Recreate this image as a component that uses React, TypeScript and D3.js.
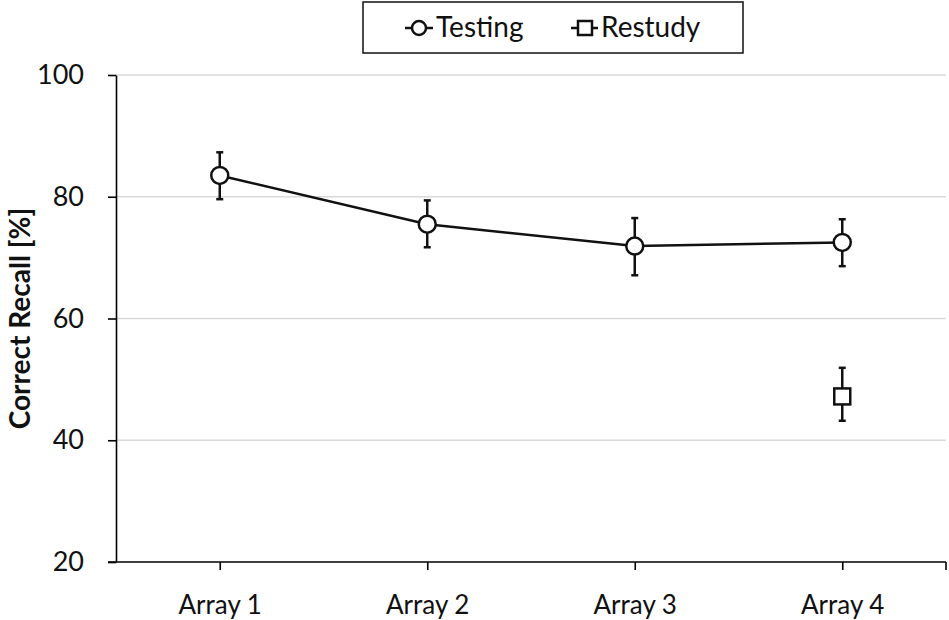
import { useEffect, useRef } from "react";
import * as d3 from "d3";

const categories = ["Array 1", "Array 2", "Array 3", "Array 4"];
const testingMean = [83.5, 75.5, 71.9, 72.5];
const testingLow = [79.6, 71.7, 67.1, 68.6];
const testingHigh = [87.3, 79.4, 76.5, 76.3];
const restudyCategory = ["Array 4"];
const restudyMean = [47.2];
const restudyLow = [43.2];
const restudyHigh = [51.9];
const yTicks = [20, 40, 60, 80, 100];

const FONT = "Lato, 'Open Sans', sans-serif";

export default function App() {
  const svgRef = useRef<SVGSVGElement>(null);

  useEffect(() => {
    if (!svgRef.current) return;
    const svg = d3.select(svgRef.current);
    svg.selectAll("*").remove();

    const left = 116, right = 946, top = 75, bottom = 562;

    const x = d3.scalePoint<string>().domain(categories).range([left, right]).padding(0.5);
    const y = d3.scaleLinear().domain([20, 100]).range([bottom, top]);

    // gridlines
    svg.append("g")
      .selectAll("line")
      .data(yTicks.filter(t => t > 20))
      .enter()
      .append("line")
      .attr("x1", left).attr("x2", right)
      .attr("y1", d => y(d)).attr("y2", d => y(d))
      .attr("stroke", "#d9d9d9")
      .attr("stroke-width", 1.5);

    // Y axis
    const yAxis = svg.append("g")
      .attr("transform", `translate(${left},0)`)
      .call(d3.axisLeft(y).tickValues(yTicks).tickSize(8).tickPadding(24).tickSizeOuter(0));
    yAxis.select(".domain").attr("stroke", "#000").attr("stroke-width", 1.6);
    yAxis.selectAll(".tick line").attr("stroke", "#000").attr("stroke-width", 1.6);
    yAxis.selectAll(".tick text")
      .attr("font-family", FONT).attr("font-size", 27).attr("fill", "#111");

    // X axis
    const xAxis = svg.append("g")
      .attr("transform", `translate(0,${bottom})`)
      .call(d3.axisBottom(x).tickSize(8).tickPadding(26).tickSizeOuter(0));
    xAxis.select(".domain").attr("d", `M${left - 8},0H${right}`).attr("stroke", "#000").attr("stroke-width", 1.6);
    xAxis.selectAll(".tick line").attr("stroke", "#000").attr("stroke-width", 1.6);
    xAxis.selectAll(".tick text")
      .attr("font-family", FONT).attr("font-size", 26).attr("fill", "#111");
    xAxis.append("line")
      .attr("x1", right).attr("x2", right)
      .attr("y1", 0).attr("y2", 8)
      .attr("stroke", "#000").attr("stroke-width", 1.6);

    // Y label
    svg.append("text")
      .attr("transform", `translate(30,${(top + bottom) / 2}) rotate(-90)`)
      .attr("text-anchor", "middle")
      .attr("font-family", FONT)
      .attr("font-weight", "bold")
      .attr("font-size", 28)
      .attr("fill", "#111")
      .text("Correct Recall [%]");

    const testing = categories.map((c, i) => ({ c, m: testingMean[i], lo: testingLow[i], hi: testingHigh[i] }));
    const restudy = restudyCategory.map((c, i) => ({ c, m: restudyMean[i], lo: restudyLow[i], hi: restudyHigh[i] }));

    const errBars = (data: typeof testing) => {
      const g = svg.append("g").attr("stroke", "#111").attr("stroke-width", 2.5);
      data.forEach(d => {
        const cx = x(d.c)!;
        g.append("line").attr("x1", cx).attr("x2", cx).attr("y1", y(d.lo)).attr("y2", y(d.hi));
        g.append("line").attr("x1", cx - 3.5).attr("x2", cx + 3.5).attr("y1", y(d.lo)).attr("y2", y(d.lo));
        g.append("line").attr("x1", cx - 3.5).attr("x2", cx + 3.5).attr("y1", y(d.hi)).attr("y2", y(d.hi));
      });
    };
    errBars(testing);
    errBars(restudy);

    const line = d3.line<{ c: string; m: number }>().x(d => x(d.c)!).y(d => y(d.m));
    svg.append("path")
      .datum(testing)
      .attr("fill", "none")
      .attr("stroke", "#111")
      .attr("stroke-width", 2.5)
      .attr("d", line);

    svg.append("g")
      .selectAll("circle")
      .data(testing)
      .enter()
      .append("circle")
      .attr("cx", d => x(d.c)!)
      .attr("cy", d => y(d.m))
      .attr("r", 8.5)
      .attr("fill", "#fff")
      .attr("stroke", "#111")
      .attr("stroke-width", 2.5);

    svg.append("g")
      .selectAll("rect")
      .data(restudy)
      .enter()
      .append("rect")
      .attr("x", d => x(d.c)! - 8)
      .attr("y", d => y(d.m) - 8)
      .attr("width", 16)
      .attr("height", 16)
      .attr("fill", "#fff")
      .attr("stroke", "#111")
      .attr("stroke-width", 2.5);

    // Legend
    const legend = svg.append("g");
    legend.append("rect")
      .attr("x", 363).attr("y", 2)
      .attr("width", 380).attr("height", 51)
      .attr("fill", "#fff").attr("stroke", "#111").attr("stroke-width", 1.5);

    legend.append("line").attr("x1", 405).attr("x2", 433).attr("y1", 28).attr("y2", 28)
      .attr("stroke", "#111").attr("stroke-width", 2.5);
    legend.append("circle").attr("cx", 419).attr("cy", 28).attr("r", 7)
      .attr("fill", "#fff").attr("stroke", "#111").attr("stroke-width", 2.5);
    legend.append("text").attr("x", 436).attr("y", 37)
      .attr("font-family", FONT).attr("font-size", 28).attr("fill", "#111").text("Testing");

    legend.append("line").attr("x1", 571).attr("x2", 598).attr("y1", 28).attr("y2", 28)
      .attr("stroke", "#111").attr("stroke-width", 2.5);
    legend.append("rect").attr("x", 578).attr("y", 21).attr("width", 14).attr("height", 14)
      .attr("fill", "#fff").attr("stroke", "#111").attr("stroke-width", 2.5);
    legend.append("text").attr("x", 601).attr("y", 37)
      .attr("font-family", FONT).attr("font-size", 28).attr("fill", "#111").text("Restudy");
  }, []);

  return (
    <svg ref={svgRef} width={949} height={620}
      style={{ position: "absolute", left: 0, top: 0, background: "#fff" }} />
  );
}
